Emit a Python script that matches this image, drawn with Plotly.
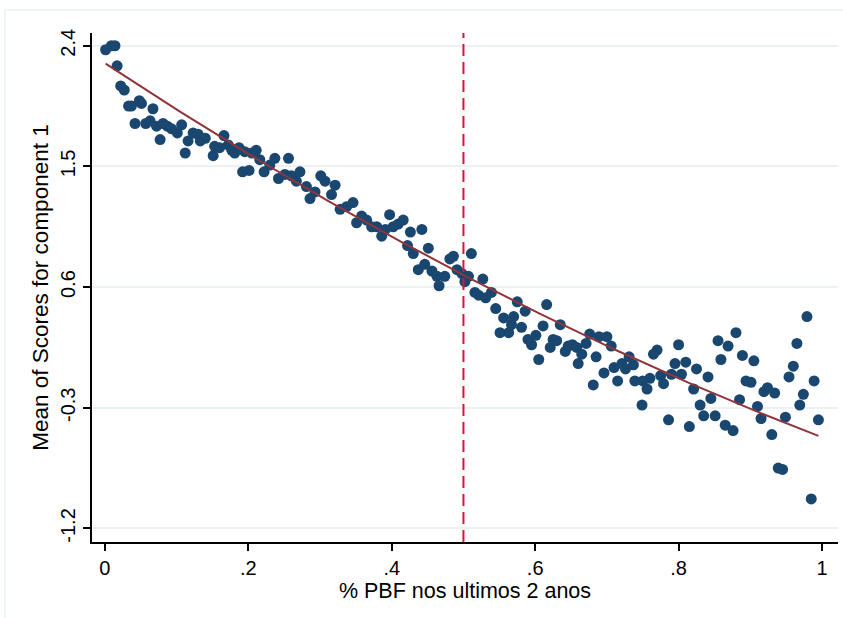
import numpy as np
import plotly.graph_objects as go

# Share of PBF recipients over the last two years (binned) and the mean
# of the first principal-component score within each bin
pbf_share = [
    0.001, 0.009, 0.014, 0.017, 0.022, 0.027, 0.033, 0.037, 0.042, 0.048,
    0.051, 0.057, 0.063, 0.067, 0.072, 0.077, 0.081, 0.087, 0.093, 0.101,
    0.107, 0.112, 0.116, 0.123, 0.130, 0.133, 0.140, 0.151, 0.153, 0.160,
    0.166, 0.172, 0.177, 0.181, 0.187, 0.192, 0.195, 0.201, 0.205, 0.211,
    0.216, 0.222, 0.230, 0.237, 0.242, 0.251, 0.256, 0.260, 0.267, 0.272,
    0.281, 0.286, 0.293, 0.301, 0.307, 0.316, 0.321, 0.328, 0.337, 0.346,
    0.351, 0.358, 0.365, 0.372, 0.379, 0.386, 0.391, 0.397, 0.402, 0.409,
    0.416, 0.422, 0.426, 0.430, 0.437, 0.442, 0.446, 0.451, 0.456, 0.463,
    0.466, 0.474, 0.481, 0.486, 0.491, 0.498, 0.502, 0.507, 0.511, 0.516,
    0.521, 0.527, 0.531, 0.539, 0.545, 0.551, 0.556, 0.563, 0.567, 0.570,
    0.575, 0.581, 0.586, 0.590, 0.595, 0.601, 0.605, 0.611, 0.616, 0.621,
    0.625, 0.630, 0.635, 0.642, 0.646, 0.652, 0.658, 0.660, 0.665, 0.671,
    0.676, 0.681, 0.685, 0.689, 0.696, 0.700, 0.706, 0.710, 0.715, 0.721,
    0.726, 0.731, 0.737, 0.739, 0.749, 0.750, 0.756, 0.760, 0.765, 0.770,
    0.775, 0.779, 0.786, 0.790, 0.795, 0.800, 0.804, 0.810, 0.815, 0.821,
    0.825, 0.830, 0.835, 0.841, 0.845, 0.851, 0.855, 0.859, 0.865, 0.869,
    0.876, 0.880, 0.885, 0.889, 0.894, 0.901, 0.905, 0.910, 0.915, 0.919,
    0.924, 0.930, 0.934, 0.939, 0.945, 0.949, 0.954, 0.960, 0.965, 0.969,
    0.974, 0.979, 0.985, 0.989, 0.995,
]
mean_score = [
    2.37, 2.40, 2.40, 2.25, 2.10, 2.07, 1.95, 1.95, 1.82, 1.99,
    1.97, 1.82, 1.84, 1.93, 1.80, 1.70, 1.82, 1.80, 1.78, 1.75,
    1.81, 1.60, 1.69, 1.75, 1.74, 1.69, 1.71, 1.58, 1.65, 1.64,
    1.73, 1.66, 1.62, 1.60, 1.64, 1.46, 1.61, 1.47, 1.60, 1.62,
    1.55, 1.46, 1.51, 1.56, 1.41, 1.44, 1.56, 1.43, 1.39, 1.46,
    1.35, 1.26, 1.31, 1.43, 1.39, 1.29, 1.36, 1.18, 1.20, 1.23,
    1.08, 1.13, 1.10, 1.05, 1.05, 0.98, 1.03, 1.14, 1.05, 1.07,
    1.10, 0.91, 1.01, 0.85, 0.73, 1.03, 0.77, 0.89, 0.72, 0.68,
    0.61, 0.68, 0.81, 0.83, 0.73, 0.70, 0.64, 0.68, 0.85, 0.56,
    0.54, 0.66, 0.52, 0.56, 0.44, 0.26, 0.37, 0.26, 0.32, 0.38,
    0.49, 0.30, 0.42, 0.21, 0.17, 0.24, 0.06, 0.31, 0.47, 0.15,
    0.21, 0.20, 0.32, 0.12, 0.16, 0.17, 0.15, 0.03, 0.10, 0.18,
    0.25, -0.13, 0.08, 0.23, -0.04, 0.23, 0.16, 0.00, -0.10, 0.03,
    -0.01, 0.08, 0.02, -0.10, -0.28, -0.10, -0.16, -0.08, 0.10, 0.13,
    -0.06, -0.12, -0.39, -0.05, 0.03, 0.17, -0.05, 0.04, -0.44, -0.16,
    -0.01, -0.28, -0.36, -0.07, -0.23, -0.36, 0.20, 0.06, -0.43, 0.16,
    -0.47, 0.26, -0.24, 0.09, -0.10, -0.11, 0.05, -0.29, -0.38, -0.18,
    -0.15, -0.50, -0.19, -0.75, -0.76, -0.37, -0.07, 0.01, 0.18, -0.28,
    -0.20, 0.38, -0.98, -0.10, -0.39,
]
cutoff = 0.5

# Quadratic prediction (qfit) over the unbinned observations:
# intercept, linear and squared terms
qfit_coef = [2.27, -3.53, 0.74]

x_ticks = [0, 0.2, 0.4, 0.6, 0.8, 1]
x_tick_text = ["0", ".2", ".4", ".6", ".8", "1"]
y_ticks = [-1.2, -0.3, 0.6, 1.5, 2.4]
y_tick_text = ["-1.2", "-0.3", "0.6", "1.5", "2.4"]

xs = np.array(pbf_share)
fit_x = np.linspace(xs.min(), xs.max(), 100)
fit_y = qfit_coef[0] + qfit_coef[1] * fit_x + qfit_coef[2] * fit_x ** 2

FONT = "Arial, Liberation Sans, sans-serif"
NAVY = "#1a476f"
MAROON = "#90353b"
GRID = "#eaf2f3"

fig = go.Figure()
fig.add_trace(go.Scatter(
    x=pbf_share, y=mean_score, mode="markers",
    marker=dict(color=NAVY, size=11, line=dict(width=0)),
    showlegend=False, hoverinfo="x+y",
))
fig.add_trace(go.Scatter(
    x=fit_x, y=fit_y, mode="lines",
    line=dict(color=MAROON, width=2),
    showlegend=False, hoverinfo="skip",
))

# cutoff marker
fig.add_shape(type="line", xref="x", yref="paper", x0=cutoff, x1=cutoff,
              y0=0, y1=1, line=dict(color="#dc143c", width=2, dash="12px,6px"),
              layer="above")
# light frame around the graph region
fig.add_shape(type="rect", xref="paper", yref="paper",
              x0=-0.1166, x1=1.2, y0=-0.2, y1=1.045,
              line=dict(color=GRID, width=1.5), fillcolor="rgba(0,0,0,0)",
              layer="below")

fig.update_layout(
    width=843, height=618,
    margin=dict(l=92, r=5, t=33, b=76),
    paper_bgcolor="white", plot_bgcolor="white",
    font=dict(family=FONT, size=20, color="#000000"),
    xaxis=dict(
        range=[-0.018, 1.0223],
        tickvals=x_ticks, ticktext=x_tick_text,
        showgrid=False, zeroline=False,
        showline=True, linecolor="#000000", linewidth=1.5,
        ticks="outside", ticklen=7, tickcolor="#000000", tickwidth=1.5,
        tickfont=dict(size=20),
        title=dict(text="% PBF nos ultimos 2 anos", font=dict(size=21.5), standoff=2),
    ),
    yaxis=dict(
        range=[-1.301, 2.495],
        tickvals=y_ticks, ticktext=y_tick_text, tickangle=-90,
        showgrid=True, gridcolor=GRID, gridwidth=1.5, zeroline=False,
        showline=True, linecolor="#000000", linewidth=1.5,
        ticks="outside", ticklen=7, tickcolor="#000000", tickwidth=1.5,
        tickfont=dict(size=20),
        title=dict(text="Mean of Scores for component 1", font=dict(size=22.5), standoff=2),
    ),
)

fig.write_html("out.html")
